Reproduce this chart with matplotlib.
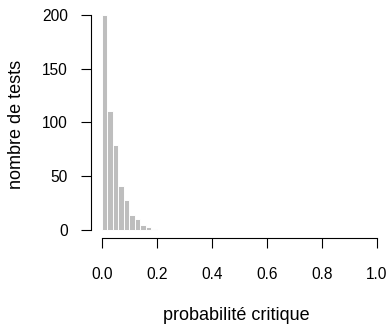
import numpy as np
import matplotlib
matplotlib.use("Agg")
import matplotlib.pyplot as plt

plt.rcParams['font.family'] = ['Liberation Sans', 'DejaVu Sans']

# histogram of critical probabilities, bins of width 0.02
bin_edges = np.arange(0, 0.20001, 0.02)
counts = [200, 111, 79, 41, 28, 14, 10, 5, 3, 1]
x_ticks = [0.0, 0.2, 0.4, 0.6, 0.8, 1.0]
x_tick_labels = ["0.0", "0.2", "0.4", "0.6", "0.8", "1.0"]
y_ticks = [0, 50, 100, 150, 200]

left, right, bottom, top = 0.2327, 0.992, 0.264, 0.980
fig = plt.figure(figsize=(3.91, 3.24), dpi=100)
ax = fig.add_axes([left, bottom, right - left, top - bottom])

ax.bar(bin_edges[:-1], counts, width=0.02, align='edge',
       color='#bebebe', edgecolor='white', linewidth=0.7)

ax.set_xlim(-0.04, 1.04)
ax.set_ylim(-8, 208)

for s in ['top', 'right']:
    ax.spines[s].set_visible(False)
ax.spines['left'].set_bounds(0, 200)
ax.spines['bottom'].set_bounds(0, 1)
for s in ['left', 'bottom']:
    ax.spines[s].set_linewidth(0.8)

ax.set_xticks(x_ticks)
ax.set_xticklabels(x_tick_labels)
ax.set_yticks(y_ticks)
ax.tick_params(axis='x', length=7.2, width=0.8, pad=13.5, labelsize=11.2)
ax.tick_params(axis='y', length=7.2, width=0.8, pad=9.5, labelsize=11.2)

fig.text(236 / 391, 1 - 315 / 324, "probabilité critique",
         ha='center', va='center', fontsize=13)
fig.text(17 / 391, 1 - 124 / 324, "nombre de tests",
         ha='center', va='center', rotation=90, fontsize=13)

fig.savefig("out.png", dpi=100)
